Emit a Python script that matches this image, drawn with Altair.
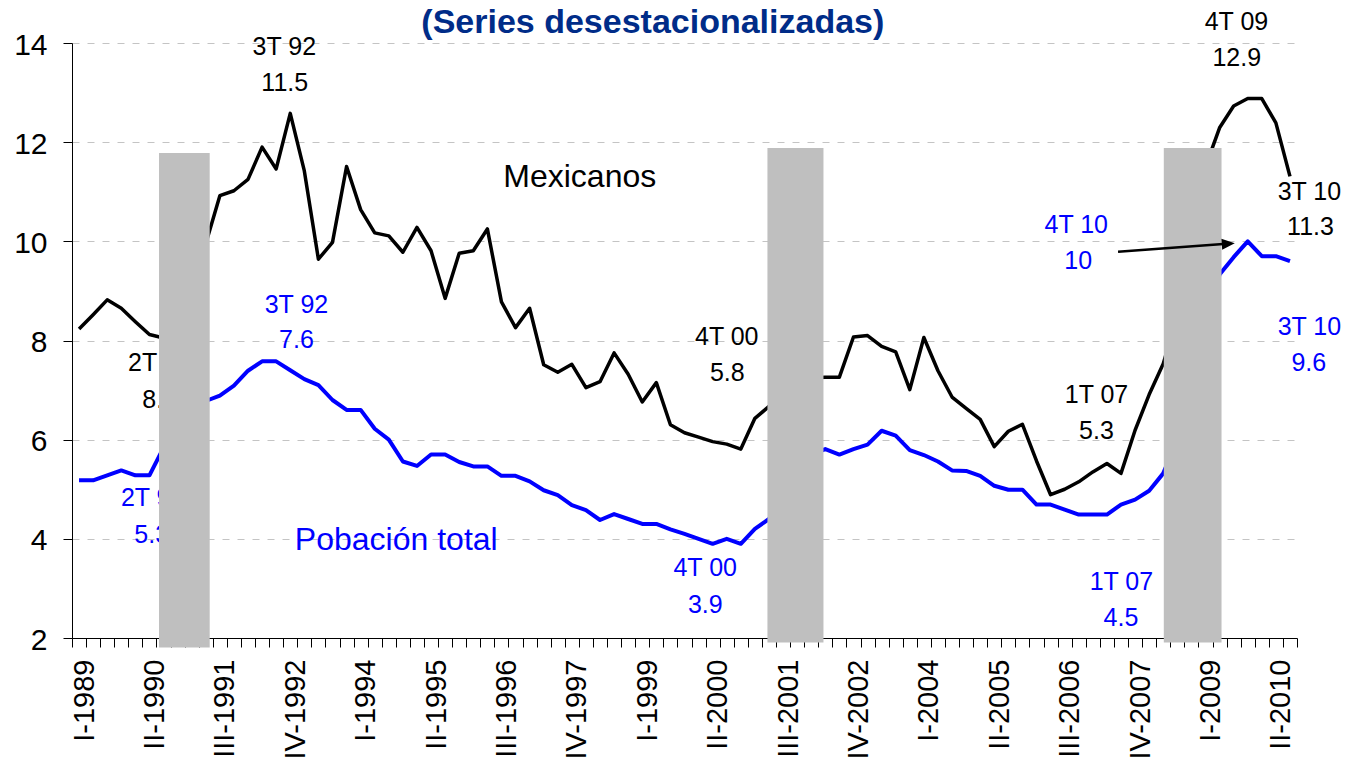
import altair as alt
import pandas as pd

FONT = "Liberation Sans, Arial, Helvetica, sans-serif"

# ---------------- data ----------------
roman = ["I", "II", "III", "IV"]
quarters = [f"{roman[q]}-{y}" for y in range(1989, 2011) for q in range(4)][:87]

mexicanos = [
    8.23, 8.52, 8.82, 8.65, 8.38, 8.12, 8.05, 8.60, 9.30, 9.95,
    10.92, 11.02, 11.25, 11.90, 11.46, 12.58, 11.42, 9.64, 9.98, 11.51,
    10.64, 10.17, 10.11, 9.78, 10.28, 9.81, 8.85, 9.76, 9.81, 10.25,
    8.78, 8.26, 8.65, 7.51, 7.36, 7.52, 7.05, 7.17, 7.75, 7.32,
    6.76, 7.15, 6.30, 6.14, 6.05, 5.96, 5.91, 5.81, 6.43, 6.67,
    7.00, 7.40, 7.25, 7.26, 7.26, 8.07, 8.10, 7.88, 7.77, 7.01,
    8.06, 7.39, 6.86, 6.63, 6.41, 5.86, 6.17, 6.31, 5.57, 4.89,
    5.00, 5.15, 5.35, 5.52, 5.32, 6.19, 6.91, 7.53, 8.50, 9.90,
    11.50, 12.29, 12.73, 12.88, 12.88, 12.39, 11.31,
]

poblacion_total = [
    5.18, 5.18, 5.28, 5.38, 5.28, 5.28, 5.84, 6.20, 6.50, 6.78,
    6.89, 7.09, 7.39, 7.58, 7.58, 7.40, 7.22, 7.10, 6.80, 6.60,
    6.60, 6.22, 6.00, 5.56, 5.47, 5.70, 5.70, 5.55, 5.46, 5.46,
    5.27, 5.27, 5.16, 4.98, 4.88, 4.68, 4.58, 4.38, 4.50, 4.40,
    4.30, 4.30, 4.19, 4.10, 4.00, 3.90, 4.00, 3.90, 4.20, 4.40,
    4.80, 5.30, 5.70, 5.81, 5.70, 5.81, 5.90, 6.18, 6.08, 5.79,
    5.69, 5.56, 5.38, 5.37, 5.27, 5.07, 4.99, 4.99, 4.69, 4.69,
    4.59, 4.49, 4.49, 4.49, 4.69, 4.79, 4.97, 5.32, 6.00, 7.00,
    8.20, 9.33, 9.68, 10.00, 9.70, 9.70, 9.60,
]

tick_labels = [
    "I-1989", "II-1990", "III-1991", "IV-1992", "I-1994", "II-1995",
    "III-1996", "IV-1997", "I-1999", "II-2000", "III-2001", "IV-2002",
    "I-2004", "II-2005", "III-2006", "IV-2007", "I-2009", "II-2010",
]

# shaded periods (in quarter-index units / rate units)
bar_start = [5.68, 48.89, 77.04]
bar_end = [9.28, 52.87, 81.14]
bar_top = [11.78, 11.88, 11.88]
bar_bottom = [1.81, 1.91, 1.91]

# annotations: text, anchor in data space (quarter index, rate)
black_text = ["3T 92", "11.5", "2T 90", "8.1", "4T 00", "5.8",
              "1T 07", "5.3", "4T 09", "12.9", "3T 10", "11.3"]
black_x = [14.58, 14.61, 5.73, 5.73, 46.0, 46.04, 72.26, 72.26, 82.2, 82.22, 87.38, 87.46]
black_y = [13.76, 13.03, 7.39, 6.64, 7.91, 7.19, 6.74, 6.02, 14.27, 13.54, 10.84, 10.13]

blue_text = ["3T 92", "7.6", "2T 90", "5.3", "4T 00", "3.9",
             "1T 07", "4.5", "4T 10", "10", "3T 10", "9.6"]
blue_x = [15.44, 15.44, 5.23, 5.16, 44.47, 44.48, 74.03, 74.0, 70.82, 70.96, 87.38, 87.34]
blue_y = [8.56, 7.84, 4.66, 3.92, 3.25, 2.51, 2.97, 2.25, 10.17, 9.45, 8.12, 7.39]

series_text = ["Mexicanos", "Pobación total"]
series_x = [35.56, 22.53]
series_y = [11.10, 3.77]

title_text = "(Series desestacionalizadas)"
title_x = [40.75]
title_y = [14.2]

arrow_from = (73.79, 9.79)
arrow_to = (81.5, 9.95)
arrow_tip = (82.08, 9.96)

# ---------------- tables ----------------
n = len(quarters)
line_df = pd.DataFrame({
    "i": list(range(n)) * 2,
    "trimestre": quarters * 2,
    "valor": mexicanos + poblacion_total,
    "serie": ["Mexicanos"] * n + ["Población total"] * n,
    "col": ["#000000"] * n + ["#0000FF"] * n,
    "sw": [3.5] * n + [4.0] * n,
})

anno_df = pd.DataFrame({
    "t": black_text + blue_text + series_text,
    "x": black_x + blue_x + series_x,
    "y": black_y + blue_y + series_y,
    "col": ["#000000"] * len(black_text) + ["#0000FF"] * len(blue_text) + ["#000000", "#0000FF"],
    "fs": [25] * (len(black_text) + len(blue_text)) + [32, 32],
})

bar_df = pd.DataFrame({"x0": bar_start, "x1": bar_end, "y0": bar_bottom, "y1": bar_top})
arrow_df = pd.DataFrame({"x0": [arrow_from[0]], "y0": [arrow_from[1]],
                         "x1": [arrow_to[0]], "y1": [arrow_to[1]]})
head_df = pd.DataFrame({"x": [arrow_tip[0]], "y": [arrow_tip[1]]})
title_df = pd.DataFrame({"x": title_x, "y": title_y, "t": [title_text]})

# ---------------- scales & axes ----------------
xs = alt.Scale(domain=[-0.5, n - 0.5], nice=False, zero=False)
ys = alt.Scale(domain=[2, 14], nice=False, zero=False)

tick_vals = [k - 0.5 for k in range(n + 1)] + list(range(0, n, 5))
label_js = "[" + ",".join(f"'{t}'" for t in tick_labels) + "]"

x_axis = alt.Axis(
    values=tick_vals, title=None, grid=False,
    domainColor="black", domainWidth=1,
    tickColor="black", tickWidth=1, tickSize=9,
    tickOpacity={"condition": {"test": "datum.value % 1 === 0", "value": 0}, "value": 1},
    labelExpr=f"datum.value % 1 === 0 ? {label_js}[datum.value / 5] : ''",
    labelAngle=270, labelAlign="right", labelBaseline="middle",
    labelFont=FONT, labelFontSize=29, labelColor="black",
    labelPadding=12, labelOffset=5, labelOverlap=False, labelFlush=False,
)
y_axis = alt.Axis(
    values=[2, 4, 6, 8, 10, 12, 14], title=None,
    grid=True, gridColor="#C4C4C4", gridDash=[7, 8], gridWidth=1,
    domainColor="black", domainWidth=1, tickColor="black", tickSize=9,
    labelFont=FONT, labelFontSize=30, labelColor="black",
    labelPadding=16, labelOffset=2,
)


def X(field):
    return alt.X(field, scale=xs, axis=x_axis, title=None)


def Y(field):
    return alt.Y(field, scale=ys, axis=y_axis, title=None)


# ---------------- layers ----------------
lines = alt.Chart(line_df).mark_line(strokeJoin="round").encode(
    x=X("i:Q"),
    y=Y("valor:Q"),
    detail="serie:N",
    color=alt.Color("col:N", scale=None),
    strokeWidth=alt.StrokeWidth("sw:Q", scale=None),
)

anno = alt.Chart(anno_df).mark_text(align="center", baseline="alphabetic", font=FONT).encode(
    x=X("x:Q"),
    y=Y("y:Q"),
    text="t:N",
    color=alt.Color("col:N", scale=None),
    size=alt.Size("fs:Q", scale=None),
)

bars = alt.Chart(bar_df).mark_rect(color="#BFBFBF").encode(
    x=X("x0:Q"),
    x2="x1:Q",
    y=Y("y0:Q"),
    y2="y1:Q",
)

arrow_line = alt.Chart(arrow_df).mark_rule(color="black", strokeWidth=2.5).encode(
    x=X("x0:Q"),
    x2="x1:Q",
    y=Y("y0:Q"),
    y2="y1:Q",
)

arrow_head = alt.Chart(head_df).mark_point(
    shape="M0,0L-1,-0.42L-1,0.42Z", filled=True, color="black",
    size=676, angle=356, opacity=1,
).encode(
    x=X("x:Q"),
    y=Y("y:Q"),
)

title = alt.Chart(title_df).mark_text(
    align="center", baseline="alphabetic", font=FONT, fontSize=34,
    fontWeight="bold", color="#002C88",
).encode(
    x=X("x:Q"),
    y=Y("y:Q"),
    text="t:N",
)

chart = alt.layer(lines, anno, bars, arrow_line, arrow_head, title).properties(
    width=1225,
    height=595,
    padding={"left": 64, "top": 35, "right": 50, "bottom": 124},
    autosize=alt.AutoSizeParams(type="none"),
    background="white",
).configure_view(stroke=None)

chart.save("out.html", embed_options={"renderer": "svg", "actions": False})
